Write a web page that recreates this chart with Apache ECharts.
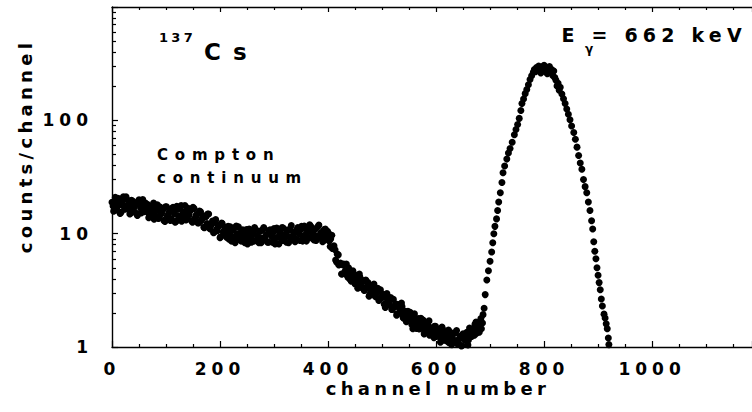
<!DOCTYPE html>
<html>
<head>
<meta charset="utf-8">
<script src="https://cdn.jsdelivr.net/npm/echarts@6/dist/echarts.min.js"></script>
<style>
html,body{margin:0;padding:0;background:#fff;}
#c{width:752px;height:412px;}
#c text{letter-spacing:0;}
#c text[style*="17px"]{letter-spacing:5px;}
#c text[style*="18px"]{letter-spacing:4.3px;}
#c text[style*="15px"]{letter-spacing:6.8px;}
#c text[style*="13px"]{letter-spacing:3.3px;}
#c text[style*="23px"]{letter-spacing:12px;}
#c text[style*="19px"]{letter-spacing:5.2px;}
</style>
</head>
<body>
<div id="c"></div>
<script>
// ---- data: [channel, counts/channel] ----
const comptonRegion = [
[0,18.9],[3,15.8],[6,20.9],[9,17.1],[12,20.2],[15,15.1],[18,18.4],[21,21.2],[24,16.4],[27,17.6],[30,19.6],
[33,14.9],[36,19.7],[39,16.1],[42,17.5],[45,15.1],[48,19.2],[51,18.2],[54,15.2],[57,20.0],[60,15.7],
[63,17.0],[66,18.1],[69,14.6],[72,15.4],[75,17.1],[78,13.4],[81,16.1],[84,18.0],[87,13.9],[90,15.0],[93,16.5],[96,13.1],[99,17.3],
[102,14.0],[105,15.2],[108,13.1],[111,16.7],[114,15.8],[117,12.6],[120,17.4],[123,14.3],[126,16.8],[129,12.9],[132,15.3],[135,17.7],[138,13.7],[141,14.7],[144,16.4],[147,13.0],[150,17.1],
[153,13.5],[156,14.6],[159,12.4],[162,15.8],[165,13.0],[168,14.4],[171,11.3],[174,14.1],[177,14.9],[180,11.2],
[183,11.8],[186,12.9],[189,10.3],[192,13.3],[195,10.6],[198,11.7],[201,9.4],[204,12.3],[207,10.0],[210,11.4],
[213,10.9],[216,9.0],[219,11.5],[222,9.4],[225,11.0],[228,8.3],[231,10.0],[234,11.5],[237,8.9],[240,9.6],
[243,10.5],[246,8.3],[249,10.9],[252,9.1],[255,9.7],[258,8.4],[261,10.7],[264,11.3],[267,8.7],[270,9.4],
[273,10.5],[276,8.3],[279,10.9],[282,8.9],[285,9.7],[288,8.4],[291,10.7],[294,10.1],[297,8.4],[300,11.1],
[303,9.1],[306,10.8],[309,8.1],[312,9.8],[315,11.3],[318,8.7],[321,9.4],[324,10.5],[327,8.3],[330,10.9],
[333,9.0],[336,9.8],[339,8.5],[342,10.8],[345,10.3],[348,8.7],[351,11.6],[354,9.5],[357,11.2],[360,8.6],
[363,10.4],[366,12.0],[369,9.2],[372,10.0],[375,11.0],[378,8.7],[381,11.5],[384,9.4],[387,10.2],[390,8.5],
[393,10.9],[396,9.6],[399,10.5],[402,8.6]
];
const comptonRegionB = [
[2,17.5],[5,19.1],[8,16.2],[11,20.5],[14,18.0],[17,15.5],[20,19.6],[23,17.1],[26,21.2],[29,16.6],
[32,17.8],[35,15.2],[38,19.4],[41,17.0],[44,18.5],[47,14.5],[50,19.9],[53,16.8],[56,18.3],[59,15.6],
[62,18.6],[65,16.2],[68,13.8],[71,17.4],[74,15.1],[77,18.6],[80,14.4],[83,16.1],[86,13.6],[89,17.2],
[92,15.1],[95,16.4],[98,12.8],[101,17.3],[104,14.6],[107,15.9],[110,13.5],[113,17.1],[116,15.0],[119,12.9],
[122,16.4],[125,14.3],[128,17.7],[131,13.8],[134,15.5],[137,13.2],[140,16.8],[143,14.7],[146,16.1],[149,12.6],
[152,16.7],[155,13.9],[158,14.9],[161,12.5],[164,15.6],[167,13.5],[170,11.4],[173,14.3],[176,12.3],[179,14.9],
[182,11.0],[185,12.2],[188,10.2],[191,12.8],[194,11.0],[197,11.8],[200,9.2],[203,12.4],[206,10.4],[209,11.1],
[212,9.3],[215,11.6],[218,10.1],[221,8.6],[224,10.9],[227,9.4],[230,11.7],[233,9.0],[236,10.1],[239,8.6],
[242,10.8],[245,9.4],[248,10.3],[251,8.1],[254,11.0],[257,9.3],[260,10.2],[263,8.6],[266,10.9],[269,9.6],
[272,8.3],[275,10.5],[278,9.1],[281,11.3],[284,8.8],[287,9.9],[290,8.4],[293,10.8],[296,9.4],[299,10.3],
[302,8.1],[305,11.2],[308,9.4],[311,10.3],[314,8.7],[317,11.2],[320,9.8],[323,8.4],[326,10.8],[329,9.4],
[332,11.8],[335,9.2],[338,10.3],[341,8.9],[344,11.3],[347,9.9],[350,10.9],[353,8.6],[356,11.7],[359,9.9],
[362,10.8],[365,9.2],[368,11.6],[371,10.2],[374,8.8],[377,11.0],[380,9.6],[383,11.9],[386,9.2],[389,10.3],
[392,8.7],[395,11.0],[398,9.4],[401,10.1]
];
const edgeRegion = [
[405,9.0],[408,7.4],[411,7.8],[414,5.85],[417,6.6],[420,5.3],[423,5.5],[426,4.4],[429,5.4],[432,4.7],
[435,4.3],[438,5.0],[441,3.95],[444,4.2],[447,4.45],[450,3.6],[453,4.1],[456,3.7],[459,4.15],[462,3.35],
[465,3.85],[468,3.2],[471,3.38],[474,3.7],[477,2.9],[480,3.05]
];
const edgeRegionB = [
[404,7.7],[407,9.7],[410,7.4],[413,7.2],[416,5.6],[419,6.5],[422,5.35],[425,4.4],[428,5.3],[431,4.5],
[434,5.4],[437,4.1],[440,4.5],[443,3.8],[446,4.7],[449,4.0],[452,4.3],[455,3.3],[458,4.4],[461,3.6],
[464,3.8],[467,3.15],[470,3.9],[473,3.33],[476,2.8],[479,3.45]
];
const valleyRegion = [
[483,3.35],[486,2.86],[489,3.0],[492,3.3],[495,2.61],[498,2.74],[501,2.89],[504,2.38],[507,2.88],[510,2.6],
[513,2.35],[516,2.73],[519,2.14],[522,2.28],[525,2.41],[528,1.96],[531,2.24],[534,2.02],[537,2.28],[540,1.79],
[543,2.07],[546,1.75],[549,1.84],[552,2.02],[555,1.58],[558,1.67],[561,1.77],[564,1.46],[567,1.78],[570,1.62],
[573,1.47],[576,1.73],[579,1.37],[582,1.47],[585,1.56],[588,1.27],[591,1.47],[594,1.33],[597,1.52],[600,1.24],
[603,1.44],[606,1.23],[609,1.3],[612,1.44],[615,1.15],[618,1.23],[621,1.31],[624,1.09],[627,1.34],[630,1.23],
[633,1.13],[636,1.34],[639,1.07],[642,1.16],[645,1.25],[648,1.03],[651,1.23],[654,1.15],[657,1.35],[660,1.15],
[663,1.39],[666,1.24],[669,1.37],[672,1.59],[675,1.32],[678,1.47],[681,1.66],[684,1.45],[687,1.93]
];
const valleyRegionB = [
[482,2.95],[485,3.6],[488,2.78],[491,3.06],[494,2.57],[497,3.19],[500,2.72],[503,2.91],[506,2.23],[509,2.97],
[512,2.44],[515,2.6],[518,2.14],[521,2.64],[524,2.27],[527,1.91],[530,2.37],[533,2.01],[536,2.44],[539,1.82],
[542,1.99],[545,1.67],[548,2.07],[551,1.77],[554,1.89],[557,1.45],[560,1.96],[563,1.62],[566,1.73],[569,1.44],
[572,1.79],[575,1.54],[578,1.3],[581,1.62],[584,1.4],[587,1.7],[590,1.31],[593,1.44],[596,1.21],[599,1.52],
[602,1.31],[605,1.41],[608,1.1],[611,1.5],[614,1.24],[617,1.35],[620,1.13],[623,1.41],[626,1.23],[629,1.05],
[632,1.32],[635,1.14],[638,1.4],[641,1.09],[644,1.21],[647,1.02],[650,1.31],[653,1.17],[656,1.29],[659,1.04],
[662,1.47],[665,1.28],[668,1.44],[671,1.27],[674,1.66],[677,1.51],[680,1.35],[683,1.78],[686,1.63]
];
const photopeak = [
[689,2.2],[691,2.9],[694,3.9],[697,4.7],[700,5.7],[703,6.9],[705,8.3],[707,10.0],[709,11.6],[712,13.5],
[714,16.0],[716,19.0],[719,23.0],[722,28.3],[724,34.5],[727,39.5],[731,45.5],[734,51.5],[737,56.4],[741,64.0],
[745,74.6],[748,83.0],[751,92.0],[754,104],[757,122],[759,141],[762,154],[765,172],[768,187],[771,206],
[774,229],[777,247],[780,266],[782,281],[784,268],[786,292],[788,276],[790,302],[792,284],[794,262],
[796,296],[798,279],[800,306],[802,271],[804,291],[806,258],[808,287],[810,299],[812,264],[814,281],
[816,249],[818,272],[820,238],[822,226],[824,201],[826,212],[828,184],[830,196],[833,171],[836,155],
[839,141],[842,126],[845,113],[848,101],[851,89],[855,78],[858,68],[861,58],[864,49],[867,42],
[870,37],[873,30],[876,26],[879,23],[882,19],[885,16],[888,13],[890,11],[892,8.5],[894,7.0],
[896,6.0],[898,5.0],[900,4.3],[902,3.7],[904,3.2],[906,2.65],[908,2.3],[911,1.95],[913,1.8],[915,1.6],
[917,1.45],[919,1.2],[920,1.05]
];

const xTickLabels = ['0','200','400','600','800','1000'];
const yTickLabels = ['1','10','100'];
const yMinorTickValues = [2,3,4,5,6,7,8,9,20,30,40,50,60,70,80,90,200,300,400,500,600,700,800,900];

const xTitle = 'channel number';
const yTitle = 'counts/channel';
const isotopeMass = '137';
const isotopeSymbol = 'Cs';
const energySymbol = 'E';
const energySub = 'γ';
const energyText = '= 662 keV';
const annotLine1 = 'Compton';
const annotLine2 = 'continuum';

// ---- chart ----
const FONT = "'DejaVu Sans', sans-serif";
const BLACK = '#000';
const chart = echarts.init(document.getElementById('c'), null, {renderer: 'svg', width: 752, height: 412});

const allPoints = comptonRegion.concat(comptonRegionB, edgeRegion, edgeRegionB, valleyRegion, valleyRegionB, photopeak);

function txt(text, x, y, size, extra) {
  return Object.assign({
    type: 'text', x: x, y: y, silent: true,
    style: {
      text: text, fill: BLACK, fontFamily: FONT, fontWeight: 'bold', fontSize: size,
      textAlign: 'left', align: 'left', textVerticalAlign: 'middle', verticalAlign: 'middle'
    }
  }, extra || {});
}

function axisLineStyle() { return {color: BLACK, width: 1.4}; }
function tickStyle() { return {color: BLACK, width: 1.2}; }

const option = {
  animation: false,
  backgroundColor: '#fff',
  grid: {left: 112, right: 0, top: 7, bottom: 65, containLabel: false, outerBoundsMode: 'none'},
  xAxis: [{
    type: 'value', min: 0, max: 1185, interval: 200, position: 'bottom',
    axisLine: {show: true, onZero: false, lineStyle: axisLineStyle()},
    axisTick: {show: true, inside: true, length: 6, lineStyle: tickStyle()},
    minorTick: {show: true, splitNumber: 4, length: 3, lineStyle: tickStyle()},
    splitLine: {show: false}, minorSplitLine: {show: false},
    axisLabel: {
      show: true, margin: 13, color: BLACK, fontFamily: FONT, fontWeight: 'bold', fontSize: 17,
      showMaxLabel: false,
      formatter: function (v) { const s = String(Math.round(v)); return xTickLabels.indexOf(s) >= 0 ? s : ''; }
    }
  }, {
    type: 'value', min: 0, max: 1185, interval: 200, position: 'top',
    axisLine: {show: true, onZero: false, lineStyle: axisLineStyle()},
    axisTick: {show: true, inside: true, length: 5, lineStyle: tickStyle()},
    minorTick: {show: true, splitNumber: 4, length: 3, lineStyle: tickStyle()},
    splitLine: {show: false},
    axisLabel: {show: false}
  }],
  yAxis: [{
    type: 'log', logBase: 10, min: 1, max: 1000, position: 'left',
    axisLine: {show: true, onZero: false, lineStyle: axisLineStyle()},
    axisTick: {show: true, inside: true, length: 6, lineStyle: tickStyle()},
    minorTick: {show: false},
    splitLine: {show: false},
    axisLabel: {
      show: true, margin: 19, color: BLACK, fontFamily: FONT, fontWeight: 'bold', fontSize: 17,
      formatter: function (v) { const s = String(Math.round(v)); return yTickLabels.indexOf(s) >= 0 ? s : ''; }
    }
  }, {
    type: 'value', min: 0, max: 3, position: 'left',
    axisLine: {show: false, onZero: false},
    axisLabel: {show: false},
    splitLine: {show: false},
    axisTick: {show: true, inside: true, length: 4, lineStyle: tickStyle(),
      customValues: yMinorTickValues.map(function (v) { return Math.log10(v); })}
  }],
  series: [{
    type: 'scatter', xAxisIndex: 0, yAxisIndex: 0, data: allPoints,
    symbol: 'circle', symbolSize: 7, itemStyle: {color: BLACK, opacity: 1}, silent: true
  }],
  graphic: [
    txt(isotopeMass, 159, 37.5, 13),
    txt(isotopeSymbol, 204, 52, 23),
    txt(annotLine1, 157, 154.8, 15),
    txt(annotLine2, 157, 178.1, 15),
    txt(energySymbol, 561.5, 35.4, 19),
    txt(energySub, 585, 49.1, 12),
    txt(energyText, 591.5, 35.4, 19),
    txt(xTitle, 438, 388.8, 18),
    txt(yTitle, 25, 146, 18, {rotation: Math.PI / 2})
  ]
};
option.graphic[7].style.textAlign = 'center';
option.graphic[7].style.align = 'center';
option.graphic[8].style.textAlign = 'center';
option.graphic[8].style.align = 'center';
chart.setOption(option);
</script>
</body>
</html>
